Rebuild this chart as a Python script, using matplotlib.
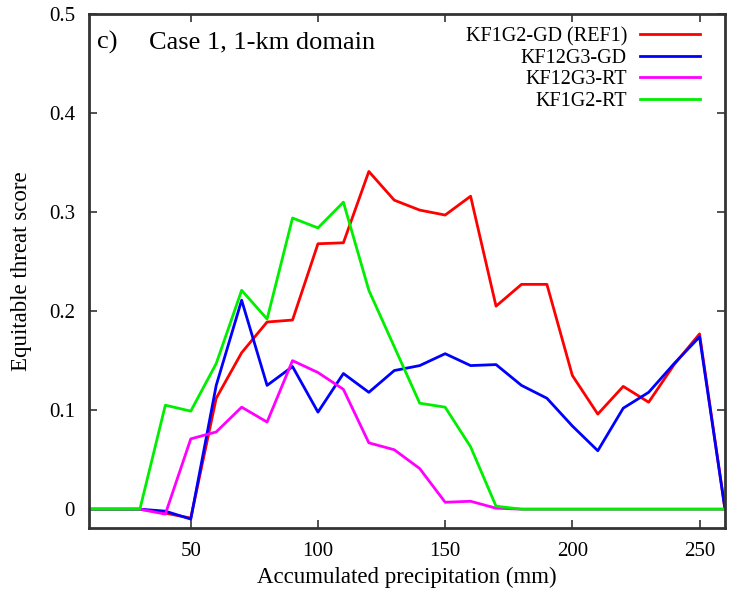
import matplotlib
matplotlib.use("Agg")
import matplotlib.pyplot as plt

plt.rcParams['font.family'] = ['Liberation Serif', 'DejaVu Serif']

# accumulated precipitation thresholds (mm)
precip = [10, 20, 30, 40, 50, 60, 70, 80, 90, 100, 110, 120, 130,
          140, 150, 160, 170, 180, 190, 200, 210, 220, 230, 240, 250, 260]

kf1g2_gd = [0, 0, 0, -0.004, -0.009, 0.112, 0.158, 0.189, 0.191, 0.268, 0.269, 0.341, 0.312,
            0.302, 0.297, 0.316, 0.205, 0.227, 0.227, 0.135, 0.096, 0.124, 0.108, 0.146, 0.177, 0]
kf12g3_gd = [0, 0, 0, -0.002, -0.010, 0.125, 0.211, 0.125, 0.144, 0.098, 0.137, 0.118, 0.140,
             0.145, 0.157, 0.145, 0.146, 0.125, 0.112, 0.084, 0.059, 0.102, 0.118, 0.147, 0.174, 0]
kf12g3_rt = [0, 0, 0, -0.005, 0.071, 0.078, 0.103, 0.088, 0.150, 0.138, 0.121, 0.067, 0.060,
             0.041, 0.007, 0.008, 0.001, 0, 0, 0, 0, 0, 0, 0, 0, 0]
kf1g2_rt = [0, 0, 0, 0.105, 0.099, 0.147, 0.221, 0.192, 0.294, 0.284, 0.310, 0.221, 0.164,
            0.107, 0.103, 0.063, 0.003, 0, 0, 0, 0, 0, 0, 0, 0, 0]

series = [
    ('KF1G2-GD (REF1)', kf1g2_gd, '#ff0000'),
    ('KF12G3-GD', kf12g3_gd, '#0000ff'),
    ('KF12G3-RT', kf12g3_rt, '#ff00ff'),
    ('KF1G2-RT', kf1g2_rt, '#00ee00'),
]

fig = plt.figure(figsize=(7.29, 5.91), dpi=100)
ax = fig.add_axes([0.1221, 0.1066, 0.8724, 0.8697])

for label, vals, col in series:
    ax.plot(precip, vals, color=col, lw=2.0, label=label)

ax.set_xlim(10, 260)
ax.set_ylim(-0.019, 0.5)
ax.set_xticks([50, 100, 150, 200, 250])
ax.set_yticks([0, 0.1, 0.2, 0.3, 0.4, 0.5])
ax.set_yticklabels(['0', '0.1', '0.2', '0.3', '0.4', '0.5'])
ax.tick_params(direction='in', length=6, width=1.2, color='#333333',
               top=True, right=True, labelsize=15, pad=10)
for s in ax.spines.values():
    s.set_linewidth(2.0)
    s.set_color('#333333')

ax.set_xlabel('Accumulated precipitation (mm)', fontsize=16.5, labelpad=4)
ax.set_ylabel('Equitable threat score', fontsize=16.5, labelpad=12)

ax.text(0.012, 0.945, 'c)', transform=ax.transAxes, fontsize=19, va='center')
ax.text(0.095, 0.945, 'Case 1, 1-km domain', transform=ax.transAxes,
        fontsize=19, va='center')

ax.legend(loc='upper right', bbox_to_anchor=(0.974, 0.99), borderaxespad=0,
          frameon=False, markerfirst=False, fontsize=14.5, handlelength=3.0,
          handletextpad=0.65, labelspacing=0.12)

fig.savefig('out.png', dpi=100)
